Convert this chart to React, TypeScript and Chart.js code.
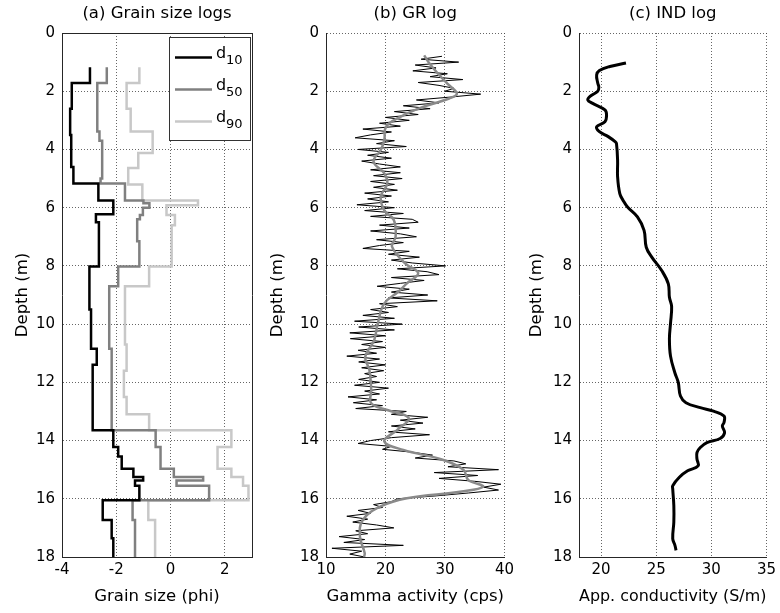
import React, { useEffect, useRef } from 'react';
import { Chart, registerables } from 'chart.js';

Chart.register(...registerables);

// ---------------- data ----------------
// (a) grain size logs: step logs, each value holds from its depth down to the next depth
const d10Depth = [1.18, 1.72, 2.6, 3.5, 4.6, 5.17, 5.75, 6.23, 6.5, 8.02, 9.5, 10.85, 11.4, 13.65, 14.22, 14.55, 14.97, 15.25, 15.37, 15.55, 16.05, 16.73, 17.36, 18.0];
const d10Phi = [-2.97, -3.64, -3.7, -3.66, -3.58, -2.66, -2.11, -2.75, -2.64, -2.99, -2.93, -2.72, -2.87, -2.11, -1.93, -1.8, -1.37, -1.01, -1.31, -1.15, -2.5, -2.17, -2.11, -2.11];

const d50Depth = [1.18, 1.72, 3.38, 3.7, 5.0, 5.17, 5.75, 5.85, 6.0, 6.25, 6.4, 7.15, 8.02, 8.7, 10.85, 13.65, 14.22, 14.97, 15.25, 15.37, 15.55, 16.05, 16.73, 18.0];
const d50Phi = [-2.35, -2.7, -2.62, -2.52, -2.58, -1.68, -1.0, -0.78, -1.02, -1.13, -1.23, -1.15, -1.93, -2.26, -2.17, -0.55, -0.37, 0.12, 1.2, 0.22, 1.42, -1.4, -1.31, -1.31];

const d90Depth = [1.18, 1.72, 2.6, 3.38, 4.12, 4.64, 5.2, 5.75, 5.92, 6.25, 6.6, 8.02, 8.7, 10.7, 11.6, 12.5, 13.1, 13.65, 14.22, 14.97, 15.25, 15.55, 16.05, 16.73, 18.0];
const d90Phi = [-1.15, -1.62, -1.47, -0.66, -1.19, -1.56, -1.04, 1.01, -0.15, 0.16, 0.04, -0.79, -1.68, -1.62, -1.72, -1.62, -0.79, 2.24, 1.73, 2.24, 2.67, 2.87, -0.82, -0.57, -0.57];

const legendBase = ['d', 'd', 'd'];
const legendSub = ['10', '50', '90'];

// (b) GR log: raw (black) and smoothed (grey)
const grDepth = [
  0.8, 0.9, 1.0, 1.1, 1.2, 1.3, 1.4, 1.5, 1.6, 1.7,
  1.8, 1.9, 2.0, 2.1, 2.2, 2.3, 2.4, 2.5, 2.6, 2.7,
  2.8, 2.9, 3.0, 3.1, 3.2, 3.3, 3.4, 3.5, 3.6, 3.7,
  3.8, 3.9, 4.0, 4.1, 4.2, 4.3, 4.4, 4.5, 4.6, 4.7,
  4.8, 4.9, 5.0, 5.1, 5.2, 5.3, 5.4, 5.5, 5.6, 5.7,
  5.8, 5.9, 6.0, 6.1, 6.2, 6.3, 6.4, 6.5, 6.6, 6.7,
  6.8, 6.9, 7.0, 7.1, 7.2, 7.3, 7.4, 7.5, 7.6, 7.7,
  7.8, 7.9, 8.0, 8.1, 8.2, 8.3, 8.4, 8.5, 8.6, 8.7,
  8.8, 8.9, 9.0, 9.1, 9.2, 9.3, 9.4, 9.5, 9.6, 9.7,
  9.8, 9.9, 10.0, 10.1, 10.2, 10.3, 10.4, 10.5, 10.6, 10.7,
  10.8, 10.9, 11.0, 11.1, 11.2, 11.3, 11.4, 11.5, 11.6, 11.7,
  11.8, 11.9, 12.0, 12.1, 12.2, 12.3, 12.4, 12.5, 12.6, 12.7,
  12.8, 12.9, 13.0, 13.1, 13.2, 13.3, 13.4, 13.5, 13.6, 13.7,
  13.8, 13.9, 14.0, 14.1, 14.2, 14.3, 14.4, 14.5, 14.6, 14.7,
  14.8, 14.9, 15.0, 15.1, 15.2, 15.3, 15.4, 15.5, 15.6, 15.7,
  15.8, 15.9, 16.0, 16.1, 16.2, 16.3, 16.4, 16.5, 16.6, 16.7,
  16.8, 16.9, 17.0, 17.1, 17.2, 17.3, 17.4, 17.5, 17.6, 17.7,
  17.8, 17.9, 18.0,
];
const grRaw = [
  29.5, 26.0, 32.3, 25.0, 28.5, 24.6, 30.4, 27.5, 33.0, 25.5,
  29.0, 31.5, 30.0, 36.0, 31.0, 25.2, 29.0, 23.0, 27.5, 21.5,
  25.5, 20.0, 24.0, 19.0, 22.5, 16.2, 21.0, 17.5, 14.9, 21.5,
  18.5, 23.5, 15.4, 20.5, 17.0, 21.0, 16.0, 19.0, 22.5, 17.5,
  22.5, 18.0, 22.8, 17.5, 21.5, 18.0, 22.0, 16.5, 21.0, 17.0,
  20.5, 15.2, 21.5, 16.5, 23.0, 17.5, 24.5, 25.5, 19.0, 24.0,
  17.5, 22.5, 25.2, 18.5, 23.0, 19.0, 16.2, 24.0, 20.5, 25.7,
  21.0, 24.5, 30.1, 22.0, 27.0, 29.0, 21.0, 26.5, 22.5, 18.6,
  24.0, 21.0, 27.1, 20.5, 28.7, 19.0, 22.0, 17.5, 20.5, 16.2,
  21.5, 14.8, 22.8, 15.5, 21.5, 14.0, 20.0, 14.1, 19.5, 16.0,
  20.0, 15.4, 18.5, 13.5, 19.0, 15.5, 20.0, 16.0, 19.7, 16.5,
  18.5, 15.5, 19.0, 14.8, 20.5, 16.5, 19.0, 13.7, 18.5, 14.6,
  19.5, 15.0, 23.5, 21.0, 27.1, 22.5, 26.3, 21.0, 25.0, 20.5,
  27.4, 21.0, 17.5, 15.4, 21.0, 19.5, 24.5, 27.9, 25.0, 31.5,
  33.5, 30.5, 39.0, 28.2, 35.5, 29.0, 35.0, 39.4, 36.5, 39.0,
  34.0, 28.5, 22.0, 21.0, 18.0, 19.5, 15.4, 17.5, 13.5, 17.0,
  14.5, 18.5, 21.4, 15.0, 17.0, 12.2, 16.5, 13.0, 23.0, 11.0,
  16.0, 14.0, 16.5,
];
const grSmoothDepth = [0.77, 1.05, 1.39, 1.74, 2.08, 2.25, 2.54, 2.88, 3.22, 3.68, 4.02, 4.42, 4.82, 5.17, 5.62, 6.09, 6.42, 7.0, 7.34, 7.91, 8.25, 8.6, 8.88, 9.29, 9.98, 10.55, 11.12, 11.58, 12.26, 12.72, 12.95, 13.23, 13.63, 14.03, 14.32, 14.66, 15.0, 15.35, 15.58, 15.75, 15.98, 16.26, 16.72, 17.29, 17.86, 18.0];
const grSmooth = [26.5, 27.4, 28.8, 30.4, 32.0, 30.7, 26.3, 22.5, 20.1, 19.8, 19.2, 18.0, 19.8, 20.3, 19.2, 19.8, 21.4, 21.7, 21.1, 23.3, 25.5, 23.6, 22.2, 19.8, 18.7, 18.1, 16.6, 17.3, 17.6, 17.6, 20.3, 23.9, 22.0, 19.8, 23.0, 29.6, 33.1, 33.9, 36.4, 32.8, 23.6, 19.2, 16.2, 15.7, 16.5, 16.4];

// (c) IND log
const indDepth = [1.03, 1.15, 1.29, 1.44, 1.72, 1.86, 2.0, 2.18, 2.3, 2.41, 2.64, 2.82, 3.05, 3.22, 3.39, 3.56, 3.74, 3.8, 4.37, 4.94, 5.52, 5.75, 5.98, 6.32, 6.78, 7.36, 7.7, 8.16, 8.62, 9.08, 9.4, 9.97, 10.5, 11.1, 11.68, 12.0, 12.47, 12.7, 12.87, 12.99, 13.16, 13.38, 13.5, 13.73, 13.93, 14.07, 14.24, 14.41, 14.64, 14.87, 15.04, 15.26, 15.55, 15.66, 16.23, 16.8, 17.37, 17.6, 17.77];
const indCond = [22.26, 20.8, 19.85, 19.6, 19.7, 19.8, 19.7, 19.0, 18.8, 19.2, 20.35, 20.5, 20.35, 19.6, 19.85, 20.65, 21.3, 21.4, 21.5, 21.5, 21.7, 22.0, 22.4, 23.3, 23.9, 24.1, 24.6, 25.5, 26.1, 26.2, 26.4, 26.3, 26.2, 26.3, 26.7, 27.0, 27.2, 27.7, 29.0, 30.2, 31.15, 31.15, 31.0, 31.2, 30.8, 29.6, 29.0, 28.7, 28.7, 28.8, 27.85, 27.1, 26.5, 26.5, 26.6, 26.6, 26.5, 26.7, 26.8];

const titles = ['(a) Grain size logs', '(b) GR log', '(c) IND log'];
const xTitles = ['Grain size (phi)', 'Gamma activity (cps)', 'App. conductivity (S/m)'];
const yTitle = 'Depth (m)';

// ---------------- layout / style ----------------
const W = 780;
const H = 613;
const PLOT_TOP = 33;
const PLOT_BOTTOM = 557;
const FAMILY = "'DejaVu Sans', sans-serif";
const LABEL_SIZE = 16.5;
const LABEL_HALF = (LABEL_SIZE * 1.2) / 2;
const LABEL_FONT = { family: FAMILY, size: LABEL_SIZE, weight: 'normal' as const, lineHeight: 1.2 };
const TICK_FONT = { family: FAMILY, size: 15, weight: 'normal' as const, lineHeight: 1.2 };
const AXIS = '#262626';
const GRID = 'rgba(0,0,0,0.6)';

const pts = (depths: number[], vals: number[]) => depths.map((d, i) => ({ x: vals[i], y: d }));

type Spec = {
  left: number;
  width: number;
  plotLeft: number;
  plotRight: number;
  yTitleCenter: number;
  title: string;
  xTitle: string;
  xMin: number;
  xMax: number;
  xStep: number;
  datasets: any[];
  box?: boolean;
  legend?: boolean;
};

const legendPlugin = {
  id: 'grainLegend',
  afterDatasetsDraw(chart: any) {
    const { ctx, chartArea } = chart;
    const bx = Math.round(chartArea.right) - 83;
    const by = Math.round(chartArea.top) + 4;
    const bw = 82;
    const bh = 104;
    ctx.save();
    ctx.fillStyle = '#ffffff';
    ctx.fillRect(bx, by, bw, bh);
    ctx.strokeStyle = '#333333';
    ctx.lineWidth = 1;
    ctx.strokeRect(bx + 0.5, by + 0.5, bw - 1, bh - 1);
    chart.data.datasets.forEach((ds: any, i: number) => {
      const y = by + 20.5 + i * 32;
      ctx.strokeStyle = ds.borderColor;
      ctx.lineWidth = ds.borderWidth;
      ctx.beginPath();
      ctx.moveTo(bx + 6, y);
      ctx.lineTo(bx + 43, y);
      ctx.stroke();
      ctx.fillStyle = '#000000';
      ctx.textBaseline = 'alphabetic';
      ctx.textAlign = 'left';
      ctx.font = `16px ${FAMILY}`;
      ctx.fillText(legendBase[i], bx + 47, y);
      ctx.font = `13px ${FAMILY}`;
      ctx.fillText(legendSub[i], bx + 57, y + 6);
    });
    ctx.restore();
  },
};

function buildConfig(s: Spec): any {
  const scales: any = {
    x: {
      type: 'linear',
      position: 'bottom',
      min: s.xMin,
      max: s.xMax,
      ticks: {
        stepSize: s.xStep,
        includeBounds: false,
        padding: 4,
        color: '#000',
        font: TICK_FONT,
        maxRotation: 0,
        autoSkip: false,
      },
      grid: { color: GRID, lineWidth: 1, drawTicks: false },
      border: { display: true, color: AXIS, width: 1, dash: [1, 2] },
      title: {
        display: true,
        text: s.xTitle,
        color: '#000',
        font: LABEL_FONT,
        padding: { top: 0, bottom: 16 - LABEL_HALF },
      },
      afterFit: (sc: any) => {
        sc.height = H - PLOT_BOTTOM;
      },
    },
    y: {
      type: 'linear',
      position: 'left',
      reverse: true,
      min: 0,
      max: 18,
      ticks: {
        stepSize: 2,
        padding: 7,
        color: '#000',
        font: TICK_FONT,
        autoSkip: false,
      },
      grid: { color: GRID, lineWidth: 1, drawTicks: false },
      border: { display: true, color: AXIS, width: 1, dash: [1, 2] },
      title: {
        display: true,
        text: yTitle,
        color: '#000',
        font: LABEL_FONT,
        padding: { top: s.yTitleCenter - s.left - LABEL_HALF, bottom: 0 },
      },
      afterFit: (sc: any) => {
        sc.width = s.plotLeft - s.left;
      },
    },
  };
  if (s.box) {
    scales.x2 = {
      type: 'linear',
      position: 'top',
      min: s.xMin,
      max: s.xMax,
      ticks: { display: false },
      grid: { drawOnChartArea: false, drawTicks: false },
      border: { display: true, color: AXIS, width: 1 },
      afterFit: (sc: any) => {
        sc.height = 0;
      },
    };
    scales.y2 = {
      type: 'linear',
      position: 'right',
      reverse: true,
      min: 0,
      max: 18,
      ticks: { display: false },
      grid: { drawOnChartArea: false, drawTicks: false },
      border: { display: true, color: AXIS, width: 1 },
      afterFit: (sc: any) => {
        sc.width = 0;
      },
    };
  }
  return {
    type: 'line',
    data: { datasets: s.datasets },
    plugins: s.legend ? [legendPlugin] : [],
    options: {
      responsive: false,
      maintainAspectRatio: false,
      animation: false,
      devicePixelRatio: 1,
      events: [],
      layout: {
        padding: { left: 0, top: 0, bottom: 0, right: s.width - (s.plotRight - s.left) },
      },
      elements: { point: { radius: 0, hoverRadius: 0 } },
      plugins: {
        legend: { display: false },
        tooltip: { enabled: false },
        title: {
          display: true,
          text: s.title,
          fullSize: false,
          color: '#000',
          font: LABEL_FONT,
          padding: { top: 14 - LABEL_HALF, bottom: PLOT_TOP - 14 - LABEL_HALF },
        },
      },
      scales,
    },
  };
}

const specs: Spec[] = [
  {
    left: 0,
    width: 258,
    plotLeft: 62,
    plotRight: 252,
    yTitleCenter: 22.5,
    title: titles[0],
    xTitle: xTitles[0],
    xMin: -4,
    xMax: 3,
    xStep: 2,
    box: true,
    legend: true,
    datasets: [
      { label: 'd10', data: pts(d10Depth, d10Phi), borderColor: '#000000', borderWidth: 2.5, stepped: 'after', fill: false },
      { label: 'd50', data: pts(d50Depth, d50Phi), borderColor: '#808080', borderWidth: 2.5, stepped: 'after', fill: false },
      { label: 'd90', data: pts(d90Depth, d90Phi), borderColor: '#c8c8c8', borderWidth: 2.5, stepped: 'after', fill: false },
    ],
  },
  {
    left: 262,
    width: 256,
    plotLeft: 326,
    plotRight: 511,
    yTitleCenter: 278,
    title: titles[1],
    xTitle: xTitles[1],
    xMin: 10,
    xMax: 40,
    xStep: 10,
    datasets: [
      { label: 'GR smoothed', data: pts(grSmoothDepth, grSmooth), borderColor: '#8a8a8a', borderWidth: 2.5, tension: 0.4, fill: false },
      { label: 'GR', data: pts(grDepth, grRaw), borderColor: '#000000', borderWidth: 1, tension: 0, fill: false },
    ],
  },
  {
    left: 520,
    width: 260,
    plotLeft: 579,
    plotRight: 770,
    yTitleCenter: 537,
    title: titles[2],
    xTitle: xTitles[2],
    xMin: 18,
    xMax: 35,
    xStep: 5,
    datasets: [
      { label: 'IND', data: pts(indDepth, indCond), borderColor: '#000000', borderWidth: 3, tension: 0.4, fill: false },
    ],
  },
];

function Panel({ spec }: { spec: Spec }) {
  const ref = useRef<HTMLCanvasElement | null>(null);
  useEffect(() => {
    if (!ref.current) return;
    const chart = new Chart(ref.current, buildConfig(spec));
    return () => chart.destroy();
  }, [spec]);
  return (
    <canvas
      ref={ref}
      width={spec.width}
      height={H}
      style={{ position: 'absolute', left: spec.left, top: 0, width: spec.width, height: H }}
    />
  );
}

export default function App() {
  return (
    <div style={{ position: 'absolute', left: 0, top: 0, width: W, height: H, background: '#ffffff', overflow: 'hidden' }}>
      {specs.map((s, i) => (
        <Panel key={i} spec={s} />
      ))}
    </div>
  );
}
